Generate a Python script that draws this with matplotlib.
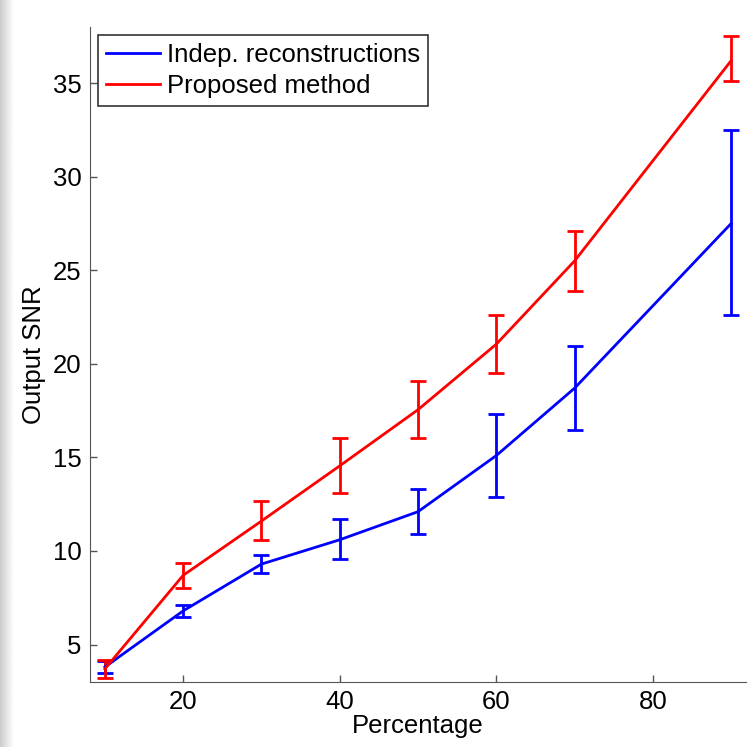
import numpy as np
import matplotlib
matplotlib.use("Agg")
import matplotlib.pyplot as plt
from matplotlib.lines import Line2D

matplotlib.rcParams['font.family'] = ['Liberation Sans', 'DejaVu Sans']

percent = [10, 20, 30, 40, 50, 60, 70, 90]

indep_mean = [3.8, 6.8, 9.3, 10.6, 12.1, 15.1, 18.7, 27.5]
indep_low = [3.5, 6.5, 8.8, 9.55, 10.9, 12.9, 16.45, 22.6]
indep_high = [4.1, 7.1, 9.8, 11.7, 13.3, 17.3, 20.95, 32.5]

prop_mean = [3.7, 8.7, 11.6, 14.55, 17.55, 21.05, 25.5, 36.2]
prop_low = [3.2, 8.0, 10.6, 13.1, 16.05, 19.5, 23.9, 35.1]
prop_high = [4.15, 9.35, 12.65, 16.05, 19.1, 22.6, 27.1, 37.5]

fig = plt.figure(figsize=(7.52, 7.47), dpi=100)

# grey shadow on left edge
sh = fig.add_axes([0, 0, 14 / 752, 1])
grad = np.linspace(0.80, 1.0, 50).reshape(1, -1)
sh.imshow(grad, cmap='gray', vmin=0, vmax=1, aspect='auto', extent=[0, 1, 0, 1])
sh.axis('off')

ax = fig.add_axes([90 / 752, 65 / 747, 656 / 752, 655 / 747])

def draw(mean, low, high, color):
    mean = np.array(mean)
    err = [mean - np.array(low), np.array(high) - mean]
    ax.errorbar(percent, mean, yerr=err, color=color, lw=2, elinewidth=2,
                capsize=6, capthick=2)

draw(indep_mean, indep_low, indep_high, 'blue')
draw(prop_mean, prop_low, prop_high, 'red')

ax.set_xlim(8.1, 91.9)
ax.set_ylim(3, 38)
ax.set_xticks([20, 40, 60, 80])
ax.set_yticks([5, 10, 15, 20, 25, 30, 35])
ax.tick_params(direction='in', length=5, width=1, color='#555555', labelsize=18.5, pad=6)
ax.spines['top'].set_visible(False)
ax.spines['right'].set_visible(False)
ax.spines['left'].set_color('#555555')
ax.spines['bottom'].set_color('#555555')

ax.set_xlabel('Percentage', fontsize=18.5, labelpad=0)
ax.set_ylabel('Output SNR', fontsize=18.5, labelpad=5)

handles = [Line2D([], [], color='blue', lw=2), Line2D([], [], color='red', lw=2)]
leg = ax.legend(handles, ['Indep. reconstructions', 'Proposed method'],
                loc='upper left', fontsize=18.5, frameon=True, fancybox=False,
                handlelength=2.1, handletextpad=0.3, borderpad=0.3,
                labelspacing=0.3, bbox_to_anchor=(0.012, 0.988), borderaxespad=0)
leg.get_frame().set_edgecolor('black')
leg.get_frame().set_linewidth(1.2)

fig.savefig('out.png', dpi=100)
